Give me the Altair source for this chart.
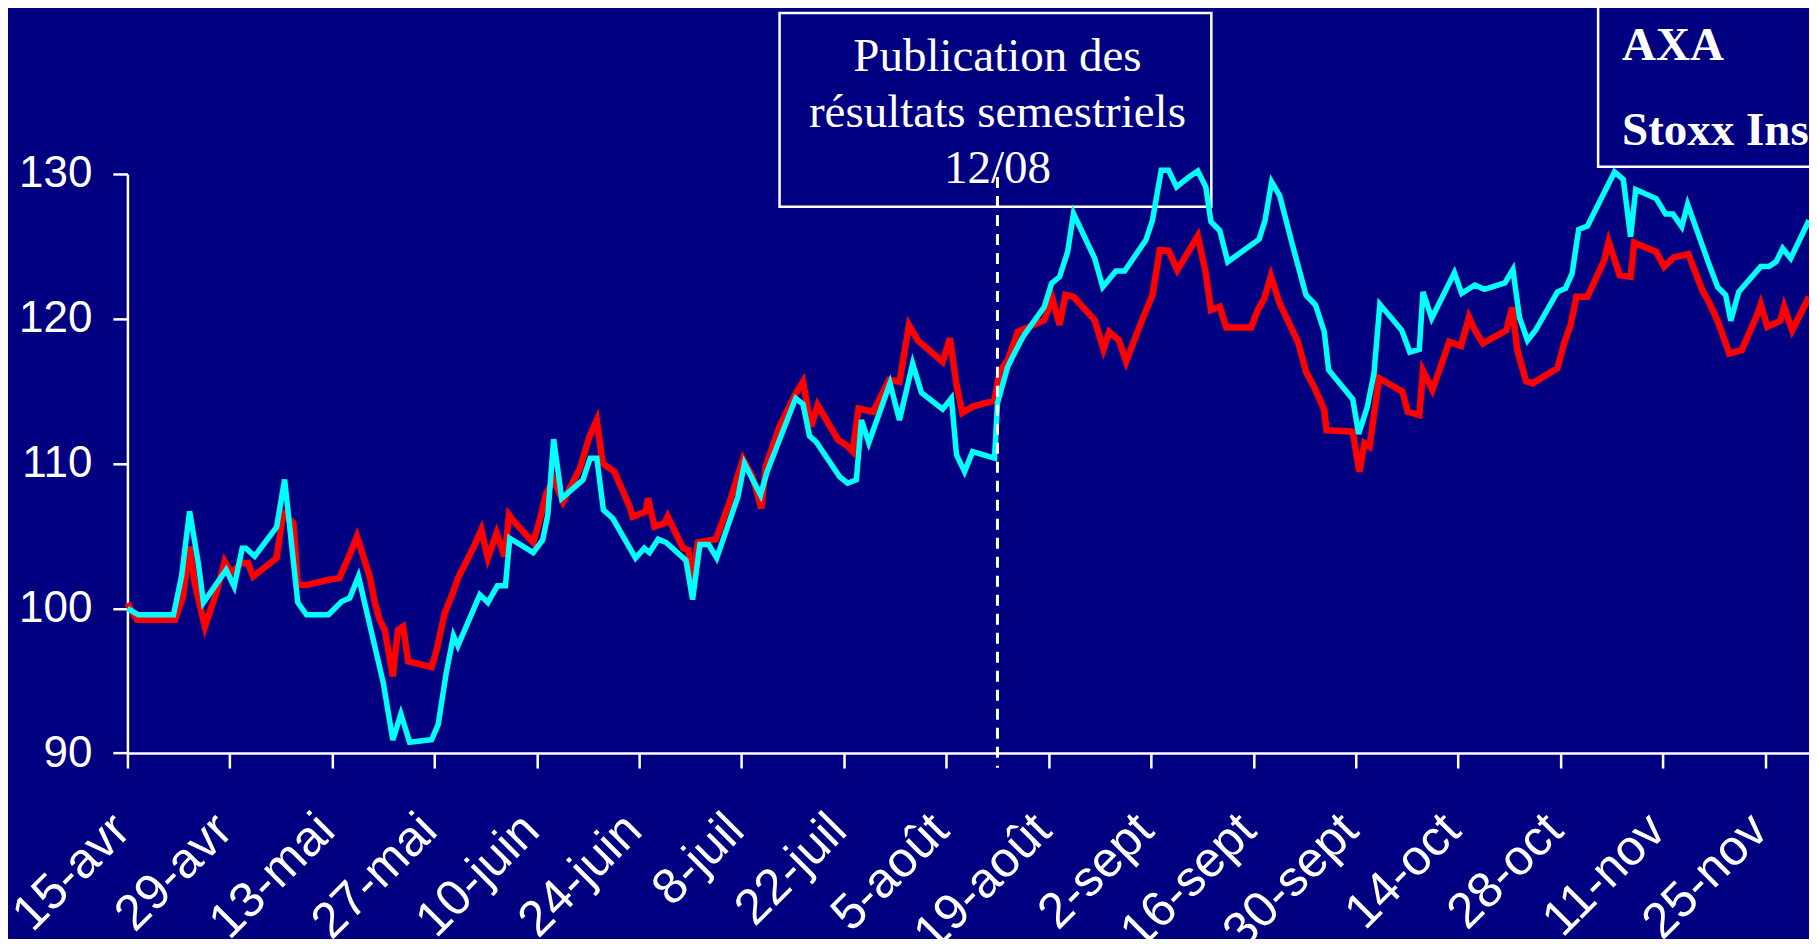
import json
import altair as alt
import pandas as pd

# ---- data (days after 15 April, index base 100) ----
AXA_DAYS = [0, 1.3, 6.5, 7.6, 8.5, 9.2, 10.6, 12.2, 13.3, 14.2, 15.6, 16.5, 17.2, 20.4, 21.3, 22.7,
            23.3, 24.5, 27.5, 29.0, 30.4, 31.4, 33.2, 33.8, 34.5, 35.2, 36.3, 37.0, 37.7, 38.4, 41.6,
            42.3, 43.4, 44.5, 45.2, 47.5, 48.4, 49.3, 50.5, 51.6, 52.2, 52.9, 55.5, 56.4, 57.3, 58.3,
            59.6, 61.9, 63.2, 64.2, 65.0, 66.6, 68.7, 69.1, 70.9, 71.2, 72.1, 73.5, 73.9, 76.0, 76.7,
            77.3, 78.0, 80.5, 82.4, 84.2, 85.5, 86.7, 87.3, 89.2, 91.3, 92.4, 93.5, 94.4, 97.2, 98.3,
            99.2, 100.0, 102.0, 104.2, 105.6, 106.9, 108.1, 111.5, 112.5, 113.4, 114.2, 115.6, 118.6,
            119.3, 120.4, 121.8, 125.4, 126.5, 127.5, 128.3, 129.4, 132.3, 133.5, 134.3, 135.6, 136.6,
            138.6, 140.2, 141.2, 142.4, 143.6, 146.4, 147.5, 148.2, 149.4, 150.3, 153.7, 154.6, 155.5,
            156.4, 157.6, 160.1, 161.2, 162.3, 163.7, 164.0, 167.6, 168.5, 169.2, 169.9, 170.9, 171.2,
            174.4, 175.1, 176.7, 177.2, 178.5, 180.8, 182.4, 183.5, 184.3, 185.4, 188.6, 189.4, 190.1,
            191.3, 192.2, 195.6, 196.5, 197.4, 198.2, 199.7, 202.0, 202.6, 204.1, 205.6, 206.1, 209.1,
            210.2, 211.5, 213.5, 215.4, 216.3, 217.5, 219.1, 220.8, 222.9, 223.4, 224.3, 226.1, 226.6,
            227.7, 230.0]
AXA_VALUES = [100.36, 99.2, 99.2, 100.8, 104.26, 101.74, 98.74, 101.16, 103.23, 102.43, 103.12, 103.12,
              102.2, 103.47, 106.57, 105.88, 101.62, 101.6, 101.97, 102.08, 103.7, 104.95, 102.08, 100.47,
              99.2, 98.5, 95.3, 98.5, 98.74, 96.33, 95.94, 97.14, 99.67, 101.05, 102.08, 104.38, 105.42,
              103.47, 105.19, 103.58, 106.45, 105.99, 104.54, 106.1, 107.95, 108.9, 107.37, 109.67, 111.86,
              113.0, 110.0, 109.44, 107.0, 106.33, 106.67, 107.6, 105.64, 105.88, 106.33, 104.15, 104.03,
              101.5, 104.54, 104.77, 107.37, 110.3, 109.1, 106.9, 109.79, 112.55, 114.73, 115.65, 112.55,
              114.04, 111.63, 111.28, 110.82, 113.8, 113.58, 115.77, 115.65, 119.57, 118.5, 117.03, 118.65,
              115.42, 113.5, 113.93, 114.34, 116.34, 117.15, 119.1, 119.9, 121.41, 119.57, 121.64, 121.52,
              119.9, 117.89, 119.1, 118.53, 117.03, 119.68, 121.64, 124.74, 124.7, 123.36, 125.71, 123.13,
              120.6, 120.83, 119.4, 119.4, 120.6, 121.4, 122.95, 121.06, 118.41, 116.34, 115.3, 113.7,
              112.3, 112.2, 109.44, 111.4, 111.17, 114.85, 115.89, 114.96, 113.58, 113.35, 116.41, 115.08,
              118.41, 118.12, 120.1, 119.2, 118.3, 119.2, 120.78, 117.84, 115.7, 115.54, 116.58, 118.3,
              119.57, 121.52, 121.52, 124.05, 125.32, 123.02, 122.9, 125.25, 124.62, 123.6, 124.24, 124.47,
              121.98, 121.17, 119.86, 117.6, 117.84, 120.26, 121.0, 119.45, 119.86, 120.83, 119.2, 121.5]

STOXX_DAYS = [0, 1.5, 6.3, 7.4, 8.5, 9.7, 10.4, 13.5, 14.6, 15.7, 16.2, 17.4, 20.4, 21.5, 23.3, 24.5,
              27.5, 29.3, 30.4, 31.6, 35.0, 36.3, 37.4, 38.6, 41.6, 42.5, 43.6, 44.6, 45.2, 48.2, 49.3,
              50.6, 51.7, 52.3, 55.5, 56.8, 57.5, 58.3, 59.4, 62.3, 63.3, 64.2, 65.1, 66.4, 69.5, 70.7,
              71.4, 72.6, 73.7, 76.4, 77.3, 78.3, 79.5, 80.6, 83.5, 84.4, 86.6, 87.5, 91.4, 92.4, 93.3,
              94.2, 97.4, 98.5, 99.7, 100.4, 101.4, 104.3, 105.6, 107.4, 108.6, 111.5, 112.7, 113.4,
              114.5, 115.6, 118.6, 119.0, 120.4, 121.3, 122.5, 125.4, 126.4, 127.5, 128.6, 129.4, 132.3,
              133.4, 135.2, 136.4, 139.3, 140.2, 141.4, 142.4, 143.5, 145.2, 146.4, 147.5, 148.2, 149.4,
              150.5, 154.8, 155.6, 156.5, 157.6, 159.4, 161.2, 162.5, 163.7, 164.3, 167.6, 168.4, 169.6,
              170.5, 171.3, 174.3, 175.4, 176.7, 177.2, 178.4, 181.5, 182.5, 184.3, 185.6, 188.4, 189.5,
              190.4, 191.5, 192.6, 195.6, 196.7, 197.6, 198.5, 199.7, 203.4, 204.6, 205.6, 206.3, 209.1,
              210.4, 211.4, 212.6, 213.4, 216.3, 217.5, 218.6, 219.3, 220.4, 223.4, 224.5, 225.5, 226.4,
              227.5, 230.0]
STOXX_VALUES = [100.0, 99.55, 99.55, 102.2, 106.7, 103.1, 100.4, 102.65, 101.5, 104.15, 104.15, 103.6,
                105.6, 108.9, 100.4, 99.55, 99.55, 100.47, 100.7, 102.2, 94.84, 90.9, 92.7, 90.74, 90.92,
                91.96, 95.53, 98.1, 97.4, 100.93, 100.4, 101.55, 101.55, 104.84, 103.85, 104.73, 106.45,
                111.68, 107.6, 108.87, 110.37, 110.37, 106.8, 106.2, 103.47, 104.15, 103.85, 104.77, 104.54,
                103.3, 100.6, 104.4, 104.4, 103.47, 107.7, 110.0, 107.83, 109.44, 114.5, 114.1, 111.9,
                111.5, 109.1, 108.64, 108.87, 113.0, 111.44, 115.54, 113.0, 116.9, 114.9, 113.75, 114.5,
                110.6, 109.44, 110.82, 110.37, 114.16, 116.69, 117.6, 118.76, 120.83, 122.44, 122.9,
                124.62, 127.27, 124.17, 122.2, 123.3, 123.3, 125.43, 126.8, 130.26, 130.26, 129.1, 129.8,
                130.2, 129.1, 126.7, 126.1, 123.93, 125.5, 126.8, 129.45, 128.5, 125.0, 121.64, 120.95,
                119.1, 116.46, 114.44, 112.04, 113.93, 116.23, 121.0, 119.2, 117.7, 117.89, 121.86, 120.03,
                123.17, 121.75, 122.33, 122.03, 122.48, 123.4, 120.1, 118.5, 119.2, 121.86, 122.1, 123.13,
                126.17, 126.4, 130.14, 129.62, 125.66, 128.93, 128.3, 127.23, 127.23, 126.35, 127.9, 123.8,
                122.2, 121.64, 119.86, 121.86, 123.6, 123.6, 123.93, 124.86, 124.17, 126.8]

TICK_DAYS = [0, 14, 28, 42, 56, 70, 84, 98, 112, 126, 140, 154, 168, 182, 196, 210, 224]
TICK_LABELS = ["15-avr", "29-avr", "13-mai", "27-mai", "10-juin", "24-juin", "8-juil", "22-juil",
               "5-août", "19-août", "2-sept", "16-sept", "30-sept", "14-oct", "28-oct", "11-nov", "25-nov"]
Y_TICKS = [90, 100, 110, 120, 130]
EVENT_DAY = [119]
EVENT_TEXT = "Publication des\nrésultats semestriels\n12/08"
LEGEND_TEXT = "AXA\nStoxx Ins"

NAVY = "#000080"
AXIS_FONT = "Liberation Sans"
SERIF = "Liberation Serif"

axa = pd.DataFrame({"day": AXA_DAYS, "indice": AXA_VALUES})
stoxx = pd.DataFrame({"day": STOXX_DAYS, "indice": STOXX_VALUES})
event = pd.DataFrame({"day": EVENT_DAY})
one = pd.DataFrame({"k": [0]})

label_expr = "{}[indexof({}, datum.value)]".format(
    json.dumps(TICK_LABELS, ensure_ascii=False), json.dumps(TICK_DAYS))

x_enc = alt.X("day:Q",
              scale=alt.Scale(domain=[0, 230], nice=False, zero=False),
              axis=alt.Axis(values=TICK_DAYS, labelExpr=label_expr, labelAngle=-45,
                            labelAlign="right", labelBaseline="middle", labelPadding=54,
                            labelOffset=-6,
                            labelFont=AXIS_FONT, labelFontSize=50, labelColor="white",
                            labelFlush=False, labelOverlap=False, labelBound=False,
                            tickColor="white",
                            tickSize=15, tickWidth=2.5, domainColor="white", domainWidth=2.5,
                            grid=False, title=None))
y_enc = alt.Y("indice:Q",
              scale=alt.Scale(domain=[90, 130], nice=False, zero=False),
              axis=alt.Axis(values=Y_TICKS, labelFont=AXIS_FONT, labelFontSize=44,
                            labelColor="white", labelPadding=21, labelFlush=False,
                            labelOverlap=False, tickColor="white", tickSize=14.6, tickWidth=2.5,
                            domainColor="white", domainWidth=2.5, grid=False, title=None))

event_box = alt.Chart(one).mark_rect(fill=NAVY, stroke="white", strokeWidth=2.5).encode(
    x=alt.value(652.5), x2=alt.value(1084.5), y=alt.value(-161.1), y2=alt.value(32.9))
legend_box = alt.Chart(one).mark_rect(fill=NAVY, stroke="white", strokeWidth=2.5).encode(
    x=alt.value(1471.5), x2=alt.value(1900), y=alt.value(-400), y2=alt.value(-7.1))

event_rule = alt.Chart(event).mark_rule(color="white", strokeWidth=3, strokeDash=[11, 8]).encode(
    x="day:Q", y=alt.value(3), y2=alt.value(594))

axa_line = alt.Chart(axa).mark_line(color="#FF0000", strokeWidth=6.5).encode(x=x_enc, y=y_enc)
stoxx_line = alt.Chart(stoxx).mark_line(color="#00FFFF", strokeWidth=5.5).encode(x="day:Q", y="indice:Q")

event_text = alt.Chart(event).mark_text(font=SERIF, fontSize=47, color="white", align="center",
                                        baseline="alphabetic", lineBreak="\n", lineHeight=56).encode(
    x="day:Q", y=alt.value(-103.1), text=alt.value(EVENT_TEXT))
legend_text = alt.Chart(one).mark_text(font=SERIF, fontSize=47, fontWeight="bold", color="white",
                                       align="left", baseline="alphabetic", lineBreak="\n",
                                       lineHeight=85).encode(
    x=alt.value(1495.5), y=alt.value(-113.8), text=alt.value(LEGEND_TEXT))

chart = alt.layer(event_box, legend_box, axa_line, stoxx_line, event_rule, event_text, legend_text).properties(
    width=1682.5, height=579.4,
    autosize=alt.AutoSizeParams(type="none"),
    padding={"left": 119.5, "top": 165.8, "right": 0, "bottom": 185.8},
    background=NAVY,
).configure_view(stroke=None)

chart.save("out.html", embed_options={"renderer": "svg", "actions": False})
